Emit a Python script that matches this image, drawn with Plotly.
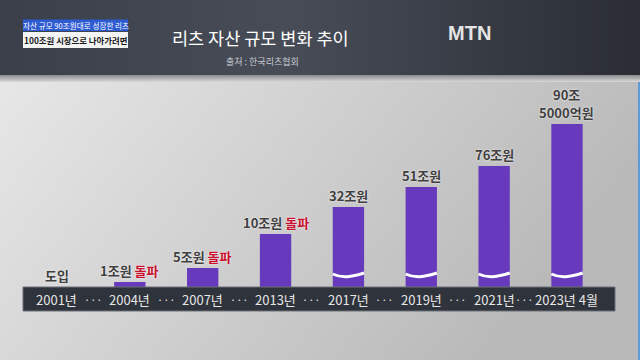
import base64
import plotly.graph_objects as go

# ---------------- data ----------------
categories = ["2001년", "2004년", "2007년", "2013년", "2017년", "2019년", "2021년", "2023년 4월"]
asset_trillion_won = [0, 1, 5, 10, 32, 51, 76, 90.5]          # 리츠 자산 규모 (조원)
bar_display_height = [0, 5, 19, 53, 80, 100, 121, 163]        # 그림 상의 막대 높이 (물결 생략 축)
value_labels = ["도입", "1조원", "5조원", "10조원", "32조원", "51조원", "76조원", "90조<br>5000억원"]
label_suffix = ["", "돌파", "돌파", "돌파", "", "", "", ""]
axis_broken = [False, False, False, False, True, True, True, True]

title_text = "리츠 자산 규모 변화 추이"
source_text = "출처 : 한국리츠협회"
tag_top = "자산 규모 90조원대로 성장한 리츠"
tag_bottom = "100조원 시장으로 나아가려면"
brand = "MTN"

# ---------------- styling ----------------
W, H = 640, 360
FONT = "Noto Sans CJK KR"
BAR = "#6639bd"
RED = "#c8102e"

bg_svg = f"""<svg xmlns='http://www.w3.org/2000/svg' width='{W}' height='{H}' viewBox='0 0 {W} {H}' preserveAspectRatio='none'>
<defs>
<linearGradient id='b' x1='0' y1='0' x2='1' y2='0.45'><stop offset='0' stop-color='#ebebeb'/><stop offset='1' stop-color='#b9b9b9'/></linearGradient>
<linearGradient id='h' x1='0' y1='0' x2='1' y2='0'><stop offset='0' stop-color='#3a3f4a'/><stop offset='0.45' stop-color='#474c57'/><stop offset='1' stop-color='#2a2d34'/></linearGradient>
<linearGradient id='e' x1='0' y1='0' x2='0' y2='1'><stop offset='0' stop-color='#8a8b8e'/><stop offset='1' stop-color='#d8d8d8'/></linearGradient>
</defs>
<rect width='{W}' height='{H}' fill='url(#b)'/>
<rect width='{W}' height='75' fill='url(#h)'/>
<rect y='75' width='{W}' height='7' fill='url(#e)'/>
<rect x='638' y='82' width='2' height='{H-82}' fill='#5d9ad6'/>
</svg>"""
bg_src = "data:image/svg+xml;base64," + base64.b64encode(bg_svg.encode()).decode()

fig = go.Figure()
fig.add_trace(go.Bar(
    x=categories, y=bar_display_height, width=0.43,
    marker=dict(color=BAR, line=dict(width=0)),
    customdata=asset_trillion_won,
    hovertemplate="%{x}: %{customdata}조원<extra></extra>",
))

shapes = []
annotations = []

# timeline band
shapes.append(dict(type="rect", xref="paper", yref="y", x0=23 / W, x1=615 / W, y0=0, y1=-24,
                   fillcolor="#2f333b", line=dict(color="#6d7178", width=1), layer="above"))

n = len(categories)
label_font = dict(family=FONT, size=13, color="#3f3f3f", weight=700, shadow="0px 0px 2px #ffffff")
for i, cat in enumerate(categories):
    annotations.append(dict(x=cat, y=-12, xref="x", yref="y", text=cat, showarrow=False,
                            font=dict(family=FONT, size=13, color="#e6e6e6"),
                            xanchor="center", yanchor="middle"))
    if i < n - 1:
        gap_pos = i + (0.42 if i == n - 2 else 0.5)
        annotations.append(dict(x=gap_pos, y=-12, xref="x", yref="y", text="···", showarrow=False,
                                font=dict(family=FONT, size=11, color="#e6e6e6"),
                                xanchor="center", yanchor="middle"))
    lines = value_labels[i].split("<br>")
    if label_suffix[i]:
        lines[-1] += f" <span style='color:{RED}'>{label_suffix[i]}</span>"
    for k, line in enumerate(reversed(lines)):
        annotations.append(dict(x=cat, y=bar_display_height[i], xref="x", yref="y", text=line,
                                showarrow=False, xanchor="center", yanchor="bottom",
                                yshift=1 + 18 * k, borderpad=0, font=label_font))
    if axis_broken[i]:
        hw = 0.215
        x0, x1 = i - hw, i + hw
        w = x1 - x0
        shapes.append(dict(type="path", xref="x", yref="y",
                           path=f"M {x0},13 C {x0 + 0.3 * w},8.5 {x0 + 0.6 * w},10 {x1},14",
                           line=dict(color="white", width=3), layer="above"))

# header elements
def px(x):
    return x / W

def py(y):
    return 1 - y / H

shapes.append(dict(type="rect", xref="paper", yref="paper", x0=px(23), x1=px(128), y0=py(31), y1=py(19.5),
                   fillcolor="#2d5bd2", line=dict(width=0)))
shapes.append(dict(type="rect", xref="paper", yref="paper", x0=px(23), x1=px(128), y0=py(48), y1=py(32),
                   fillcolor="#f4f4f4", line=dict(width=0)))
hdr = dict(xref="paper", yref="paper", showarrow=False, xanchor="center", yanchor="middle")
annotations += [
    dict(hdr, x=px(75.5), y=py(25.5), text=tag_top,
         font=dict(family=FONT, size=7.6, color="white")),
    dict(hdr, x=px(75.5), y=py(40), text=tag_bottom,
         font=dict(family=FONT, size=8.4, color="#1a1a1a", weight=700)),
    dict(hdr, x=px(260), y=py(38), text=title_text,
         font=dict(family=FONT, size=17.5, color="white")),
    dict(hdr, x=px(262), y=py(61), text=source_text,
         font=dict(family=FONT, size=9, color="#c9ccd2")),
    dict(hdr, x=px(469), y=py(33), text=brand,
         font=dict(family="Liberation Sans", size=20, color="#e4e4e4", weight=700)),
]

fig.update_layout(
    width=W, height=H,
    margin=dict(l=0, r=0, t=0, b=0),
    paper_bgcolor="#d4d4d4", plot_bgcolor="rgba(0,0,0,0)",
    showlegend=False,
    xaxis=dict(visible=False, range=[-0.782, 8.002], type="category", fixedrange=True),
    yaxis=dict(visible=False, range=[-73, 287], fixedrange=True),
    images=[dict(source=bg_src, xref="paper", yref="paper", x=0, y=1, sizex=1, sizey=1,
                 xanchor="left", yanchor="top", sizing="stretch", layer="below")],
    shapes=shapes,
    annotations=annotations,
)

fig.write_html("out.html", config={"displayModeBar": False},
               post_script="document.body.style.margin='0';")
